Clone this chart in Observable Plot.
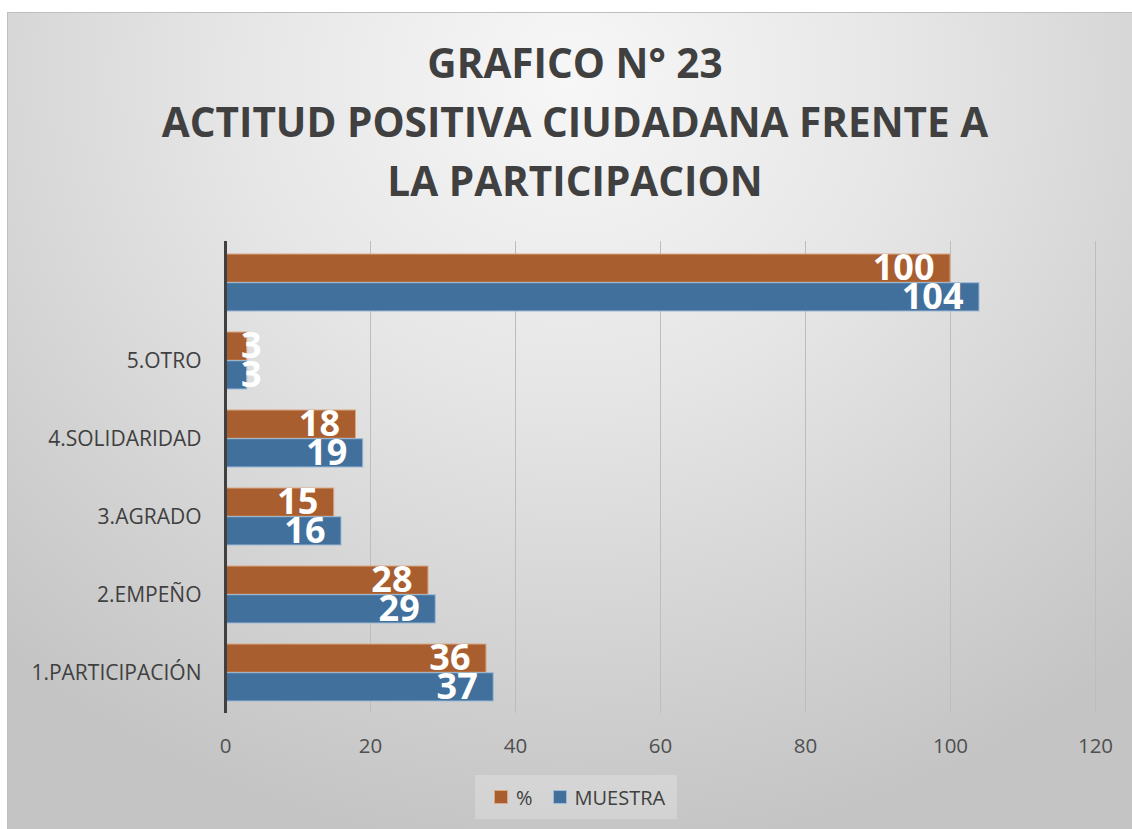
<!DOCTYPE html>
<html>
<head>
<meta charset="utf-8">
<script src="https://cdn.jsdelivr.net/npm/d3@7"></script>
<script src="https://cdn.jsdelivr.net/npm/@observablehq/plot@0.6"></script>
<style>
  html, body { margin: 0; padding: 0; background: #ffffff; width: 1132px; height: 829px; overflow: hidden; }
  #frame {
    position: absolute; left: 7px; top: 12px; width: 1125px; height: 817px;
    border: 1px solid #bfbfbf;
    background: radial-gradient(ellipse 75% 95% at 50% 8%, #f7f7f7 0%, #e6e6e6 40%, #d2d2d2 75%, #c4c4c4 100%);
  }
  #title {
    position: absolute; left: 0; top: 33px; width: 1150px; text-align: center;
    font-family: "Open Sans", sans-serif; font-weight: 700; font-size: 40.5px; line-height: 59px;
    color: #404040;
  }
  #plot { position: absolute; left: 8px; top: 220px; }
  #legend {
    position: absolute; left: 475px; top: 775px; width: 202px; height: 44px;
    background: rgba(255,255,255,0.22);
    display: flex; align-items: center; box-sizing: border-box; padding-left: 19px;
    font-family: "Open Sans", sans-serif; font-size: 20px; color: #404040;
  }
  .sw { width: 12px; height: 12px; display: inline-block; margin-right: 8px; }
  .item { display: flex; align-items: center; margin-right: 20px; }
</style>
</head>
<body>
<div id="frame"></div>
<div id="title"></div>
<div id="plot"></div>
<div id="legend"></div>
<script>
// ---- data ----
const categories = ["1.PARTICIPACIÓN", "2.EMPEÑO", "3.AGRADO", "4.SOLIDARIDAD", "5.OTRO", ""];
const seriesNames = ["%", "MUESTRA"];
const pctValues = [36, 28, 15, 18, 3, 100];
const muestraValues = [37, 29, 16, 19, 3, 104];
const xTicks = [0, 20, 40, 60, 80, 100, 120];
const titleLines = ["GRAFICO N° 23", "ACTITUD POSITIVA CIUDADANA FRENTE A", "LA PARTICIPACION"];
const colors = ["#a85e2e", "#41709c"];
const strokes = ["#d9a784", "#9dbad6"];

// title
document.getElementById("title").innerHTML = titleLines.map(t => `<div>${t}</div>`).join("");

// legend
document.getElementById("legend").innerHTML = seriesNames.map((s, i) =>
  `<span class="item"><span class="sw" style="background:${colors[i]};border:1px solid ${strokes[i]}"></span>${s}</span>`
).join("");

const rowsPct = categories.map((c, i) => ({cat: c, serie: seriesNames[0], value: pctValues[i]}));
const rowsMu = categories.map((c, i) => ({cat: c, serie: seriesNames[1], value: muestraValues[i]}));

const W = 1124, H = 560, mt = 21, mb = 67, ml = 217, mr = 37;
const pIn = 0.27, pOut = 0.135;
const step = (H - mt - mb) / (categories.length - pIn + 2 * pOut);
const bw = step * (1 - pIn);
const half = bw / 2;

const yDomain = categories.slice().reverse();
const font = "Open Sans";

const labelBig = d => d.value >= 5;
const labelSmall = d => d.value < 5;
const lbl = {fill: "white", fontSize: 36, fontWeight: 700, fontFamily: font};

const chart = Plot.plot({
  width: W, height: H,
  marginTop: mt, marginBottom: mb, marginLeft: ml, marginRight: mr,
  style: {background: "transparent", fontFamily: font, color: "#404040"},
  x: {domain: [0, 120], ticks: xTicks, label: null},
  y: {domain: yDomain, paddingInner: pIn, paddingOuter: pOut, label: null},
  marks: [
    Plot.gridX(xTicks.filter(t => t > 0), {stroke: "#bdbdbd", strokeOpacity: 1, strokeWidth: 1}),
    Plot.axisX(xTicks, {tickSize: 0, tickPadding: 25, fontSize: 20.5, fill: "#505050", fontFamily: font, label: null}),
    Plot.axisY({tickSize: 0, tickPadding: 24, fontSize: 21, fill: "#404040", fontFamily: font, label: null}),
    Plot.barX(rowsPct, {x: "value", y: "cat", fill: colors[0], stroke: strokes[0], strokeWidth: 1, insetBottom: half, insetTop: 0}),
    Plot.barX(rowsMu, {x: "value", y: "cat", fill: colors[1], stroke: strokes[1], strokeWidth: 1, insetTop: half, insetBottom: 0}),
    Plot.ruleX([0], {stroke: "#404040", strokeWidth: 3}),
    Plot.text(rowsPct.filter(labelBig), {x: "value", y: "cat", text: d => String(d.value), textAnchor: "end", dx: -16, dy: -half / 2, ...lbl}),
    Plot.text(rowsMu.filter(labelBig), {x: "value", y: "cat", text: d => String(d.value), textAnchor: "end", dx: -16, dy: half / 2, ...lbl}),
    Plot.text(rowsPct.filter(labelSmall), {x: "value", y: "cat", text: d => String(d.value), textAnchor: "middle", dx: 4, dy: -half / 2, ...lbl}),
    Plot.text(rowsMu.filter(labelSmall), {x: "value", y: "cat", text: d => String(d.value), textAnchor: "middle", dx: 4, dy: half / 2, ...lbl})
  ]
});
document.getElementById("plot").appendChild(chart);
</script>
</body>
</html>
